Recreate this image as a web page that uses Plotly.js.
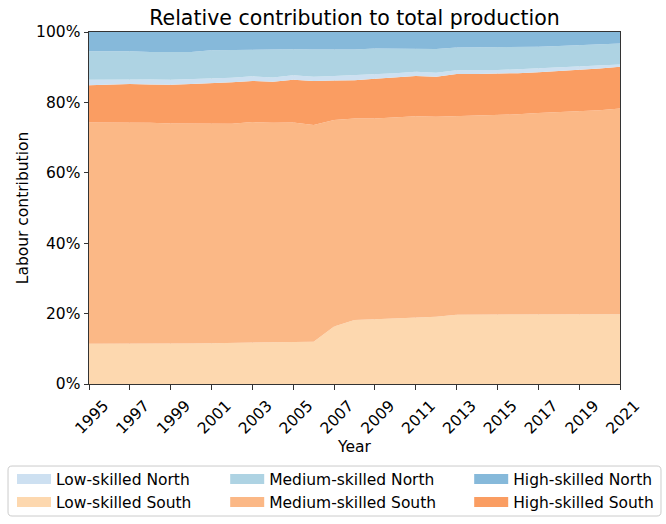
<!DOCTYPE html>
<html>
<head>
<meta charset="utf-8">
<script src="https://cdn.plot.ly/plotly-3.0.1.min.js"></script>
<style>html,body{margin:0;padding:0;background:#fff;}#chart{width:666px;height:524px;}</style>
</head>
<body>
<div id="chart"></div>
<script>
const years = [1995,1996,1997,1998,1999,2000,2001,2002,2003,2004,2005,2006,2007,2008,2009,2010,2011,2012,2013,2014,2015,2016,2017,2018,2019,2020,2021];

// shares in percent of total production
const lowSouth    = [11.4,11.4,11.3,11.3,11.4,11.5,11.6,11.7,11.8,11.9,12.0,12.0,16.3,18.2,18.4,18.6,18.9,19.1,19.7,19.7,19.7,19.7,19.7,19.8,19.8,19.8,19.8];
const mediumSouth = [62.9,62.9,63.0,62.9,62.6,62.5,62.3,62.2,62.6,62.3,62.3,61.6,58.7,57.2,57.0,57.1,57.2,56.8,56.4,56.5,56.6,56.9,57.3,57.4,57.6,58.0,58.5];
const highSouth   = [10.6,10.8,10.9,10.9,11.0,11.2,11.5,11.8,11.7,11.7,12.1,12.5,11.2,10.9,11.3,11.4,11.4,11.4,12.0,11.9,11.8,11.7,11.6,11.7,11.8,11.8,11.8];
const lowNorth    = [1.5,1.4,1.4,1.4,1.4,1.4,1.3,1.3,1.3,1.2,1.3,1.2,1.3,1.4,1.4,1.2,1.2,1.1,1.0,1.0,1.1,1.1,1.1,1.1,1.0,0.9,0.7];
const mediumNorth = [8.1,8.1,7.9,7.8,7.8,7.7,8.1,7.9,7.6,7.9,7.4,7.7,7.4,7.3,7.2,7.0,6.6,6.8,6.5,6.5,6.4,6.3,6.1,6.0,6.0,5.9,5.9];
const highNorth   = [5.5,5.4,5.5,5.7,5.8,5.7,5.2,5.1,5.0,5.0,4.9,5.0,5.1,5.0,4.7,4.7,4.7,4.8,4.4,4.4,4.4,4.3,4.2,4.0,3.8,3.6,3.3];

// stacking order bottom -> top
const seriesNames = ["Low-skilled South","Medium-skilled South","High-skilled South","Low-skilled North","Medium-skilled North","High-skilled North"];
const seriesValues = [lowSouth, mediumSouth, highSouth, lowNorth, mediumNorth, highNorth];
const seriesColors = ["#fdd8af","#fbb886","#fa9d62","#cde0f1","#aed3e3","#86b9da"];

// legend columns: [north, south] per skill level
const legendColumns = [["Low-skilled North","Low-skilled South"],["Medium-skilled North","Medium-skilled South"],["High-skilled North","High-skilled South"]];
const legendIds = ["legend","legend2","legend3"];

const traces = seriesNames.map((name, i) => ({
  x: years,
  y: seriesValues[i],
  name: name,
  type: "scatter",
  mode: "lines",
  stackgroup: "one",
  line: {width: 0, color: seriesColors[i]},
  fillcolor: seriesColors[i],
  showlegend: false,
  hoverinfo: "skip"
}));

// legend-only entries (no data drawn)
legendColumns.forEach((col, c) => {
  col.forEach(name => {
    const idx = seriesNames.indexOf(name);
    traces.push({
      x: [null], y: [null], name: name, type: "scatter", mode: "lines",
      line: {width: 12, color: seriesColors[idx]},
      legend: legendIds[c], showlegend: true, hoverinfo: "skip"
    });
  });
});

const font = {family: "DejaVu Sans, sans-serif", color: "#000"};
const legendBase = {
  orientation: "v", xanchor: "left", yanchor: "top", y: -0.2227,
  bgcolor: "rgba(0,0,0,0)", borderwidth: 0,
  font: {size: 15.5, family: font.family, color: "#000"},
  itemwidth: 34, traceorder: "normal", tracegroupgap: 0
};

// rounded legend frame in paper coords
const fx0 = -0.1525, fx1 = 1.0772, fy0 = -0.375, fy1 = -0.233, rx = 0.0075, ry = 0.0114;
const framePath = `M${fx0+rx},${fy1} L${fx1-rx},${fy1} Q${fx1},${fy1} ${fx1},${fy1-ry} L${fx1},${fy0+ry} Q${fx1},${fy0} ${fx1-rx},${fy0} L${fx0+rx},${fy0} Q${fx0},${fy0} ${fx0},${fy0+ry} L${fx0},${fy1-ry} Q${fx0},${fy1} ${fx0+rx},${fy1} Z`;

const layout = {
  width: 666, height: 524,
  margin: {l: 89, r: 46, t: 32, b: 140, autoexpand: false},
  paper_bgcolor: "#fff",
  plot_bgcolor: "#fff",
  font: Object.assign({size: 15.5}, font),
  title: {text: "Relative contribution to total production", x: 0.5, xref: "paper", xanchor: "center", y: 0.9656, yanchor: "middle", font: Object.assign({size: 20.5}, font)},
  xaxis: {
    range: [1995, 2021], tick0: 1995, dtick: 2, tickangle: -45,
    showgrid: true, gridcolor: "rgba(150,150,150,0.2)", gridwidth: 1,
    showline: true, mirror: true, linecolor: "#333", linewidth: 1,
    ticks: "outside", ticklen: 4.5, tickcolor: "#333",
    layer: "above traces", zeroline: false,
    ticklabelshift: 15, ticklabelstandoff: 1,
    tickfont: {size: 15.5},
    title: {text: "Year", font: {size: 15.5}, standoff: 0}
  },
  yaxis: {
    range: [0, 100], dtick: 20, ticksuffix: "%",
    showgrid: true, gridcolor: "rgba(150,150,150,0.2)", gridwidth: 1,
    showline: true, mirror: true, linecolor: "#333", linewidth: 1,
    ticks: "outside", ticklen: 4.5, tickcolor: "#333",
    layer: "above traces", zeroline: false,
    tickfont: {size: 15.5},
    title: {text: "Labour contribution", font: {size: 15.5}, standoff: 3}
  },
  legend: Object.assign({}, legendBase, {x: -0.145}),
  legend2: Object.assign({}, legendBase, {x: 0.2565}),
  legend3: Object.assign({}, legendBase, {x: 0.716}),
  shapes: [{type: "path", xref: "paper", yref: "paper", path: framePath, line: {color: "#cccccc", width: 1}, fillcolor: "rgba(0,0,0,0)", layer: "above"}],
  showlegend: true
};

Plotly.newPlot("chart", traces, layout, {staticPlot: true, displayModeBar: false});
</script>
</body>
</html>
